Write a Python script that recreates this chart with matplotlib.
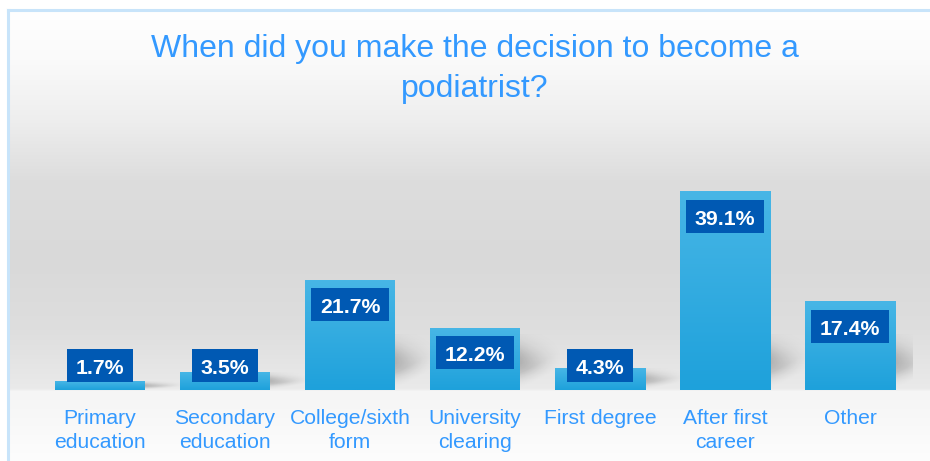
import numpy as np
import matplotlib
matplotlib.use("Agg")
import matplotlib.pyplot as plt
from matplotlib.lines import Line2D
from matplotlib.patches import Rectangle

plt.rcParams['font.family'] = ['Liberation Sans', 'DejaVu Sans']

# Survey answers
categories = ["Primary\neducation", "Secondary\neducation", "College/sixth\nform",
              "University\nclearing", "First degree", "After first\ncareer", "Other"]
values = [1.7, 3.5, 21.7, 12.2, 4.3, 39.1, 17.4]
value_labels = ["1.7%", "3.5%", "21.7%", "12.2%", "4.3%", "39.1%", "17.4%"]

title = "When did you make the decision to become a\npodiatrist?"

W, H = 930, 461
fig = plt.figure(figsize=(W / 100, H / 100), dpi=100)

# background: grey wall fading from white, lighter floor under the bars
bg = fig.add_axes([0, 0, 1, 1])
bg.axis('off')
stops_y = [0, 11, 60, 120, 180, 260, 330, 388, 391, 461]
stops_g = [255, 255, 250, 238, 221, 217, 222, 234, 245, 253]
col = np.interp(np.arange(H), stops_y, stops_g) / 255.0
img = np.repeat(col[:, None], W, axis=1)
img[:10, :] = 1.0
img[:, :8] = 1.0
bg.imshow(np.dstack([img, img, img]), extent=[0, W, H, 0], aspect='auto')
bg.set_xlim(0, W)
bg.set_ylim(H, 0)

# light blue frame (top and left edges)
frame_col = '#C8E4FA'
fig.add_artist(Line2D([8 / W, 1], [1 - 10 / H, 1 - 10 / H], color=frame_col, lw=2.2))
fig.add_artist(Line2D([8 / W, 8 / W], [0, 1 - 10 / H], color=frame_col, lw=2.2))

# main axes: 125 px per category, 5.065 px per percent
px_y = 5.065
ymax = 40
ax_h = ymax * px_y
ax = fig.add_axes([37.5 / W, 71 / H, 875 / W, ax_h / H])
ax.patch.set_alpha(0)

bar_w = 0.72
x = np.arange(len(values))

# soft cast shadows to the right of each bar
su, sw = np.meshgrid(np.linspace(0, 1, 60), np.linspace(0, 1, 80))
for xi, v in zip(x, values):
    hs = min(v, 11)
    centre = 0.5 - 0.15 * su
    a = 0.22 * (1 - su) ** 1.2 * np.exp(-((sw - centre) / 0.32) ** 2)
    a *= np.clip((sw - 0.4 * su) / 0.3, 0, 1)
    rgba = np.zeros(a.shape + (4,))
    rgba[..., 3] = a
    ax.imshow(rgba, extent=[xi + bar_w / 2, xi + bar_w / 2 + 0.34, 0, hs],
              origin='lower', aspect='auto', zorder=1, interpolation='bilinear')

# bars with a vertical gradient
bars = ax.bar(x, values, width=bar_w, color='#2FA8E0', zorder=2)
top_c = np.array([0x47, 0xB6, 0xE6]) / 255
bot_c = np.array([0x1E, 0xA1, 0xDB]) / 255
t = np.linspace(0, 1, 100)[:, None]
grad = (bot_c * (1 - t) + top_c * t)[:, None, :]
for b, xi, v in zip(bars, x, values):
    ax.imshow(grad, extent=[xi - bar_w / 2, xi + bar_w / 2, 0, v],
              origin='lower', aspect='auto', zorder=3)

# value boxes
fig.canvas.draw()
renderer = fig.canvas.get_renderer()
box_h = 33 / px_y
for xi, v, lab in zip(x, values, value_labels):
    box_top = max(v - 8 / px_y, 41 / px_y)
    cy = box_top - box_h / 2
    txt = ax.text(xi, cy - 8.2 / px_y, lab, ha='center', va='baseline',
                  color='white', fontsize=15.3, fontweight='bold', zorder=6)
    tw = txt.get_window_extent(renderer).width
    bw = (tw + 18) / 125
    ax.add_patch(Rectangle((xi - bw / 2, box_top - box_h), bw, box_h,
                           facecolor='#0059B3', edgecolor='none', zorder=5))

ax.set_xlim(-0.5, len(values) - 0.5)
ax.set_ylim(0, ymax)
ax.set_xticks(x, categories, fontsize=15.2, color='#3399FF')
for tl in ax.get_xticklabels():
    tl.set_linespacing(1.3)
ax.tick_params(axis='x', length=0, pad=14)
ax.set_yticks([])
for s in ax.spines.values():
    s.set_visible(False)

fig.text(475 / W, 1 - 34 / H, title, ha='center', va='top', fontsize=23,
         color='#3399FF', linespacing=1.45)

fig.savefig('out.png', dpi=100)
